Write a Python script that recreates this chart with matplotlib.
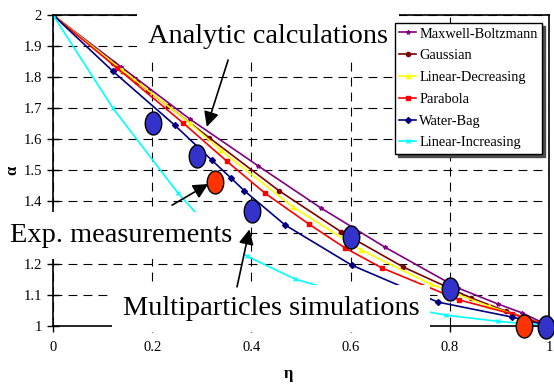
import numpy as np
import matplotlib
matplotlib.use('Agg')
import matplotlib.pyplot as plt
from matplotlib.path import Path

plt.rcParams['font.family'] = ['Liberation Serif', 'DejaVu Serif']

# analytic curves
mb_x = [0, 0.138, 0.276, 0.414, 0.54, 0.669, 0.817, 0.897, 0.946, 1.0]
mb_y = [2, 1.832, 1.665, 1.514, 1.379, 1.253, 1.121, 1.070, 1.041, 1.0]

gauss_x = [0, 0.121, 0.139, 0.169, 0.192, 0.232, 0.315, 0.456, 0.581, 0.706, 0.843, 0.913, 1.0]
gauss_y = [2, 1.845, 1.820, 1.785, 1.756, 1.707, 1.605, 1.434, 1.302, 1.189, 1.089, 1.047, 1.0]

lindec_x = [0, 0.14, 0.276, 0.338, 0.484, 0.62, 0.76, 0.88, 1.0]
lindec_y = [2, 1.822, 1.652, 1.565, 1.382, 1.245, 1.135, 1.062, 1.0]

parab_x = [0, 0.13, 0.262, 0.35, 0.427, 0.516, 0.589, 0.663, 0.819, 0.925, 1.0]
parab_y = [2, 1.828, 1.653, 1.530, 1.427, 1.327, 1.250, 1.186, 1.083, 1.038, 1.0]

wbag_x = [0, 0.12, 0.245, 0.32, 0.359, 0.386, 0.468, 0.602, 0.776, 0.925, 1.0]
wbag_y = [2, 1.82, 1.646, 1.533, 1.475, 1.434, 1.324, 1.195, 1.076, 1.028, 1.0]

lininc_x = [0, 0.121, 0.252, 0.33, 0.391, 0.488, 0.64, 0.792, 0.897, 1.0]
lininc_y = [2, 1.70, 1.427, 1.29, 1.224, 1.15, 1.08, 1.034, 1.014, 1.0]

# simulations / measurements
sim_x = [0.202, 0.29, 0.401, 0.6, 0.8, 0.994]
sim_y = [1.652, 1.546, 1.369, 1.286, 1.118, 0.996]
exp_x = [0.327, 0.95]
exp_y = [1.463, 0.999]

xtick_labels = ['0', '0.2', '0.4', '0.6', '0.8', '1']
# 1.3 sits under the "Exp. measurements" box in the original
ytick_labels = ['1', '1.1', '1.2', '', '1.4', '1.5', '1.6', '1.7', '1.8', '1.9', '2']

series = [
    ('Maxwell-Boltzmann', mb_x, mb_y, '#800080', '*'),
    ('Gaussian', gauss_x, gauss_y, '#800000', 'o'),
    ('Linear-Decreasing', lindec_x, lindec_y, '#ffff00', '^'),
    ('Parabola', parab_x, parab_y, '#ff0000', 's'),
    ('Water-Bag', wbag_x, wbag_y, '#000080', 'D'),
    ('Linear-Increasing', lininc_x, lininc_y, '#00ffff', 'x'),
]

fig = plt.figure(figsize=(5.54, 3.85), dpi=100)
ax = fig.add_axes([0.0957, 0.154, 0.8953, 0.807])

for name, x, y, c, m in series:
    ax.plot(x, y, color=c, marker=m, markersize=3, lw=1.2, label=name, zorder=2)

# tall ellipse marker
t = np.linspace(0, 2 * np.pi, 60)
ell = Path(np.column_stack([0.72 * np.cos(t), np.sin(t)]), closed=True)
ax.plot(sim_x, sim_y, ls='none', marker=ell, markersize=16.5, mfc='#3333cc',
        mec='black', mew=1, zorder=5, clip_on=False)
ax.plot(exp_x, exp_y, ls='none', marker=ell, markersize=16.5, mfc='#ff3300',
        mec='black', mew=1, zorder=5, clip_on=False)

ax.set_xlim(0, 1)
ax.set_ylim(1, 2)
ax.set_xticks([0, 0.2, 0.4, 0.6, 0.8, 1])
ax.set_xticklabels(xtick_labels)
ax.set_yticks(np.arange(1, 2.01, 0.1))
ax.set_yticklabels(ytick_labels)
ax.tick_params(axis='x', direction='out', length=4, width=1, labelsize=10.5, pad=7)
ax.tick_params(axis='y', direction='inout', length=8, width=1, labelsize=10.5, pad=4)
ax.grid(True, color='black', lw=0.8, ls=(0, (8, 5.5)))
for s in ax.spines.values():
    s.set_linewidth(1.2)

ax.set_xlabel('η', fontsize=12, fontweight='bold')
ax.set_ylabel('α', fontsize=12, fontweight='bold')
ax.xaxis.set_label_coords(0.474, -0.13)
ax.yaxis.set_label_coords(-0.066, 0.5)

box = dict(facecolor='white', edgecolor='none', pad=8)
ax.text(0.433, 1.910, 'Analytic calculations', fontsize=20.4, ha='center',
        va='baseline', bbox=box, zorder=3, clip_on=False)
ax.text(0.137, 1.268, 'Exp. measurements', fontsize=20.4, ha='center',
        va='baseline', bbox=box, zorder=3, clip_on=False)
ax.text(0.4395, 1.0344, 'Multiparticles simulations', fontsize=20.4, ha='center',
        va='baseline', bbox=box, zorder=3, clip_on=False)

arrow = dict(arrowstyle='-|>,head_length=0.6,head_width=0.3', color='black',
             lw=1.2, mutation_scale=15, shrinkA=0, shrinkB=0)
ax.annotate('', xy=(0.310, 1.640), xytext=(0.353, 1.855), arrowprops=arrow,
            zorder=6, annotation_clip=False)
ax.annotate('', xy=(0.313, 1.456), xytext=(0.240, 1.388), arrowprops=arrow,
            zorder=6, annotation_clip=False)
ax.annotate('', xy=(0.396, 1.31), xytext=(0.371, 1.125), arrowprops=arrow,
            zorder=6, annotation_clip=False)

leg = ax.legend(loc='upper right', bbox_to_anchor=(0.986, 0.974), borderaxespad=0,
                fontsize=10.4, handlelength=1.2, handletextpad=0.2, borderpad=0.3,
                labelspacing=0.6, fancybox=False, framealpha=1, edgecolor='black',
                shadow={'color': '0.3', 'alpha': 1})
leg.get_frame().set_linewidth(1)
leg.set_zorder(10)

fig.savefig('out.png', dpi=100)
